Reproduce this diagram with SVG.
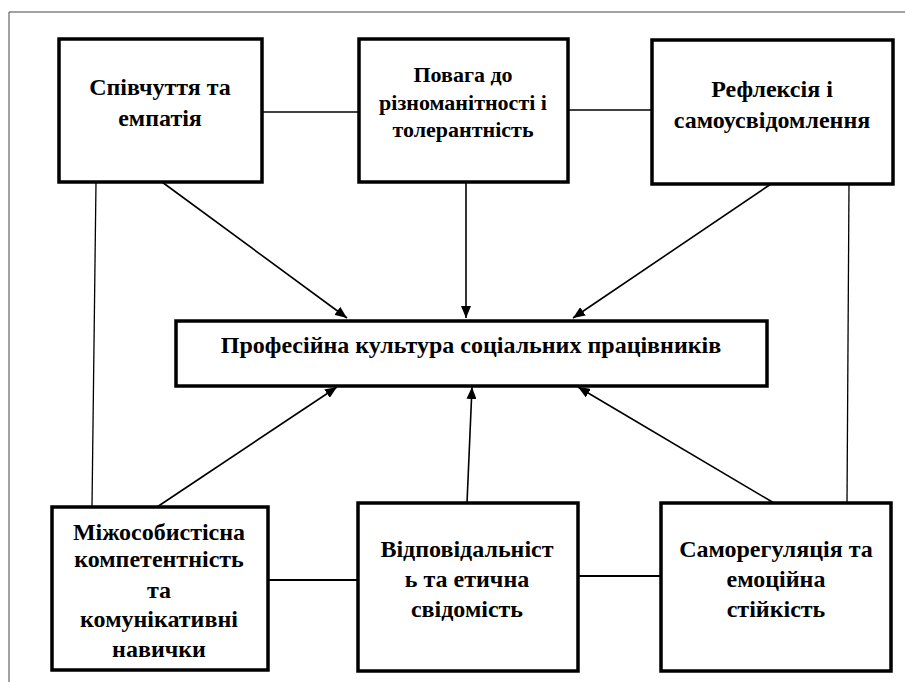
<svg xmlns="http://www.w3.org/2000/svg" width="905" height="682" viewBox="0 0 905 682">
<defs>
<marker id="ah" viewBox="0 0 12 10" refX="12" refY="5" markerWidth="12" markerHeight="10" markerUnits="userSpaceOnUse" orient="auto">
<path d="M0,0 L12,5 L0,10 z" fill="#000"/>
</marker>
<style>
.box{fill:#fff;stroke:#000;stroke-width:3.5}
.t{font-family:'Liberation Serif','Times New Roman',serif;font-weight:bold;font-size:24px;fill:#000;text-anchor:middle}
.t2{font-size:22px}
.ln{stroke:#000;stroke-width:1.3;fill:none}
.ln2{stroke:#000;stroke-width:2;fill:none}
.ar{stroke:#000;stroke-width:1.6;fill:none;marker-end:url(#ah)}
</style>
</defs>
<rect width="905" height="682" fill="#fff"/>
<path d="M9,682 V12 H905" fill="none" stroke="#444" stroke-width="1"/>
<g id="connectors">
<line class="ln" x1="262" y1="112" x2="359" y2="112"/>
<line class="ln" x1="568" y1="110" x2="652" y2="110"/>
<line class="ln" x1="96" y1="182" x2="92" y2="507"/>
<line class="ln" x1="849" y1="184" x2="847" y2="503"/>
<line class="ln2" x1="268" y1="580" x2="358" y2="580"/>
<line class="ln2" x1="578" y1="576" x2="661" y2="576"/>
<line class="ar" x1="162" y1="182" x2="347" y2="318"/>
<line class="ar" x1="466" y1="182" x2="466" y2="318"/>
<line class="ar" x1="771" y1="184" x2="573" y2="318"/>
<line class="ar" x1="157" y1="507" x2="337" y2="387"/>
<line class="ar" x1="467" y1="503" x2="472" y2="387"/>
<line class="ar" x1="774" y1="503" x2="578" y2="387"/>
</g>
<g id="n1">
<rect class="box" x="59" y="39" width="203" height="143"/>
<text class="t" x="160" y="95">Співчуття та</text>
<text class="t" x="160" y="126">емпатія</text>
</g>
<g id="n2">
<rect class="box" x="359" y="39" width="209" height="143"/>
<text class="t t2" x="463" y="82">Повага до</text>
<text class="t t2" x="463" y="110">різноманітності і</text>
<text class="t t2" x="463" y="137">толерантність</text>
</g>
<g id="n3">
<rect class="box" x="652" y="40" width="241" height="144"/>
<text class="t" x="772" y="97">Рефлексія і</text>
<text class="t" x="772" y="128">самоусвідомлення</text>
</g>
<g id="center">
<rect class="box" x="176" y="321" width="591" height="65"/>
<text class="t" x="471" y="353">Професійна культура соціальних працівників</text>
</g>
<g id="n4">
<rect class="box" x="52" y="507" width="216" height="163"/>
<text class="t" x="159" y="540">Міжособистісна</text>
<text class="t" x="159" y="567">компетентність</text>
<text class="t" x="159" y="598">та</text>
<text class="t" x="159" y="627">комунікативні</text>
<text class="t" x="159" y="657">навички</text>
</g>
<g id="n5">
<rect class="box" x="358" y="503" width="220" height="168"/>
<text class="t" x="467" y="557">Відповідальніст</text>
<text class="t" x="467" y="587">ь та етична</text>
<text class="t" x="467" y="617">свідомість</text>
</g>
<g id="n6">
<rect class="box" x="661" y="503" width="230" height="168"/>
<text class="t" x="776" y="557">Саморегуляція та</text>
<text class="t" x="776" y="587">емоційна</text>
<text class="t" x="776" y="617">стійкість</text>
</g>
</svg>
